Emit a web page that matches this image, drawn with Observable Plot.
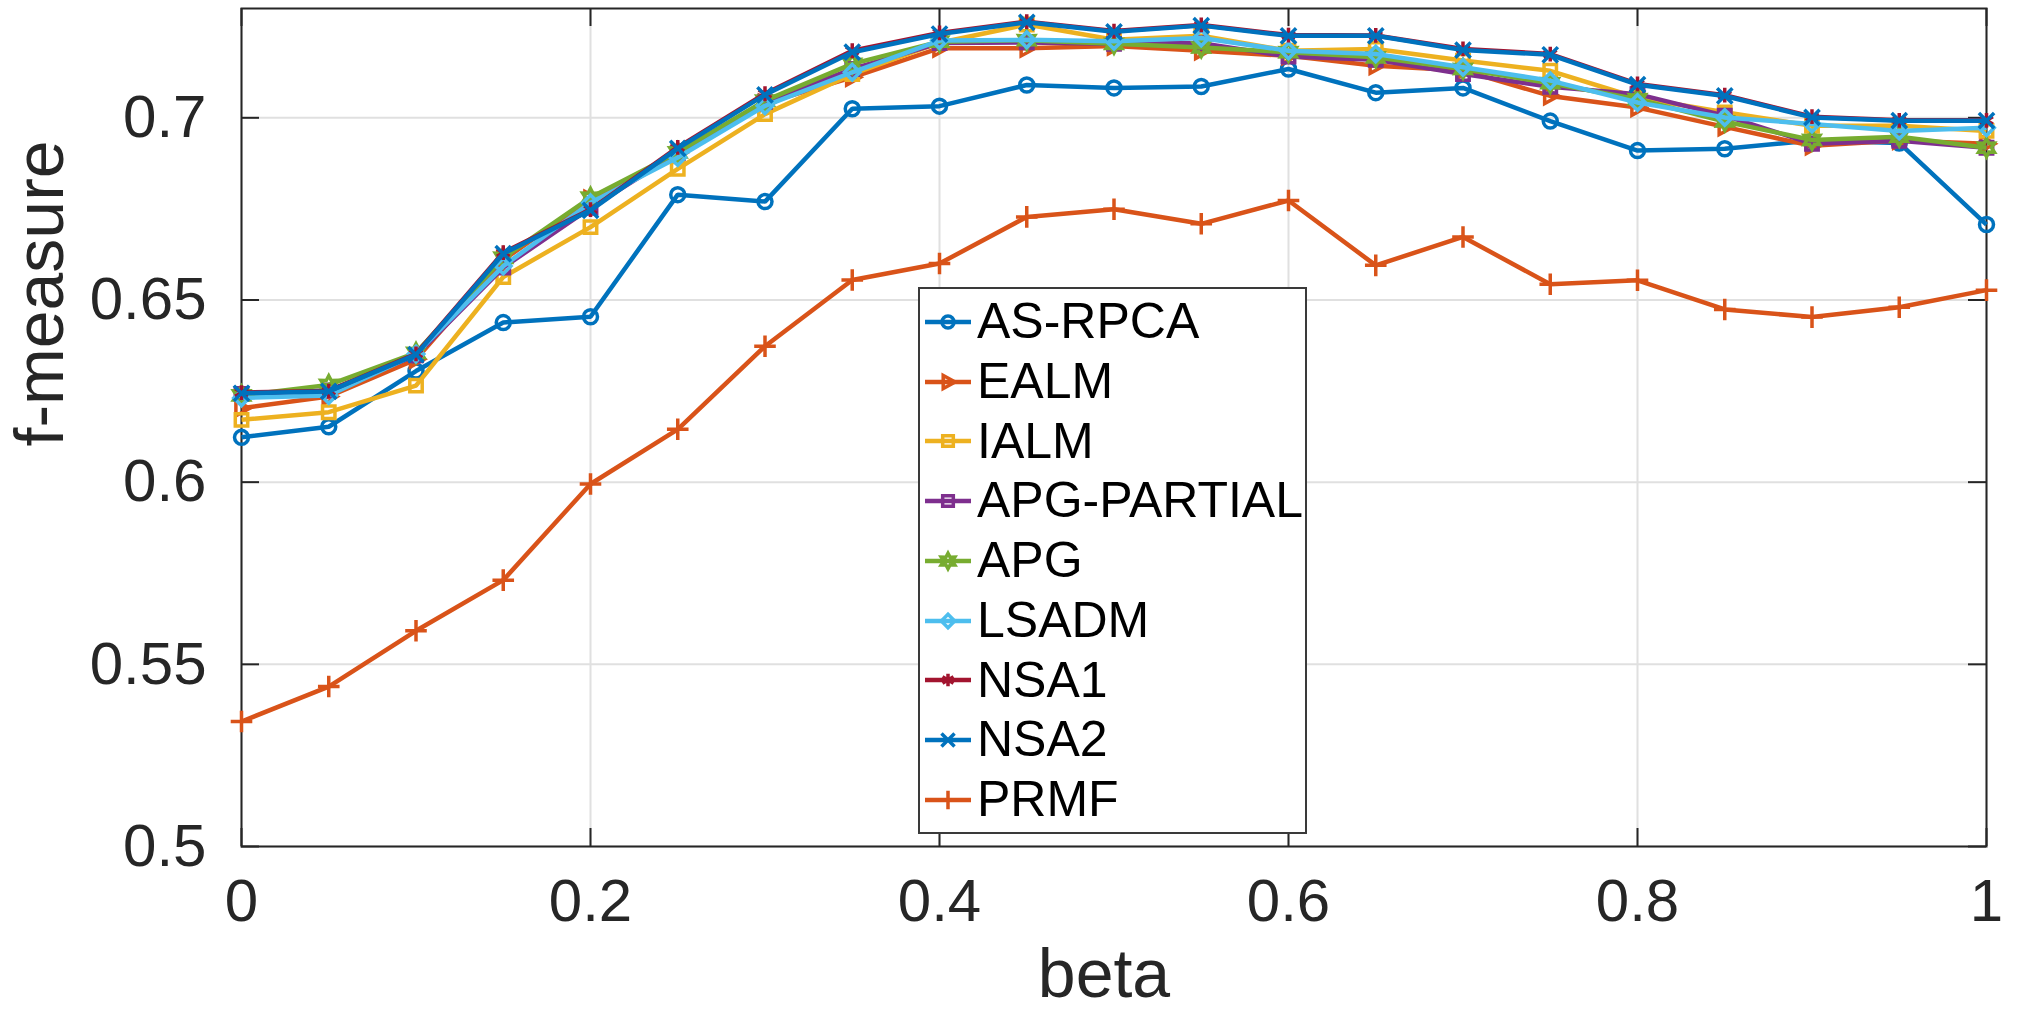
<!DOCTYPE html>
<html>
<head>
<meta charset="utf-8">
<script src="https://cdn.jsdelivr.net/npm/d3@7"></script>
<script src="https://cdn.jsdelivr.net/npm/@observablehq/plot@0.6"></script>
<style>
  html, body { margin: 0; padding: 0; background: #fff; }
  #chart { position: relative; width: 2034px; height: 1011px;
           font-family: "Liberation Sans", Arial, Helvetica, sans-serif; }
  #legend { position: absolute; left: 918px; top: 287px; width: 385px; height: 540px;
            border: 2px solid #3a3a3a; background: #fff; padding-top: 3px; box-sizing: content-box; }
  #legend .row { display: flex; align-items: center; height: 59.75px; }
  #legend .row svg { flex: none; display: block; }
  #legend .row span { font-size: 50px; line-height: 59.75px; color: #000; white-space: nowrap; }
</style>
</head>
<body>
<div id="chart"></div>
<script>
// beta sweep
const beta = [0, 0.05, 0.1, 0.15, 0.2, 0.25, 0.3, 0.35, 0.4, 0.45, 0.5,
              0.55, 0.6, 0.65, 0.7, 0.75, 0.8, 0.85, 0.9, 0.95, 1];

// f-measure per method
const asRpca     = [0.6123, 0.6152, 0.6305, 0.6438, 0.6454, 0.6789, 0.6770, 0.7025, 0.7032, 0.7090, 0.7082,
                    0.7086, 0.7134, 0.7069, 0.7082, 0.6991, 0.6910, 0.6915, 0.6938, 0.6931, 0.6707];
const ealm       = [0.6203, 0.6235, 0.6337, 0.6610, 0.6777, 0.6903, 0.7040, 0.7111, 0.7191, 0.7191, 0.7197,
                    0.7184, 0.7170, 0.7143, 0.7130, 0.7060, 0.7028, 0.6975, 0.6923, 0.6938, 0.6929];
const ialm       = [0.6171, 0.6192, 0.6265, 0.6563, 0.6700, 0.6860, 0.7010, 0.7120, 0.7206, 0.7256, 0.7214,
                    0.7225, 0.7184, 0.7189, 0.7157, 0.7129, 0.7055, 0.7015, 0.6978, 0.6978, 0.6964];
const apgPartial = [0.6242, 0.6252, 0.6348, 0.6589, 0.6753, 0.6903, 0.7044, 0.7134, 0.7205, 0.7207, 0.7203,
                    0.7205, 0.7168, 0.7159, 0.7120, 0.7085, 0.7065, 0.7006, 0.6929, 0.6937, 0.6918];
const apg        = [0.6238, 0.6267, 0.6355, 0.6616, 0.6781, 0.6905, 0.7047, 0.7148, 0.7209, 0.7213, 0.7203,
                    0.7193, 0.7180, 0.7166, 0.7134, 0.7095, 0.7051, 0.6990, 0.6939, 0.6948, 0.6918];
const lsadm      = [0.6231, 0.6238, 0.6352, 0.6593, 0.6767, 0.6891, 0.7033, 0.7125, 0.7212, 0.7214, 0.7210,
                    0.7219, 0.7184, 0.7175, 0.7139, 0.7102, 0.7042, 0.7001, 0.6983, 0.6964, 0.6973];
const nsa1       = [0.6246, 0.6250, 0.6352, 0.6630, 0.6748, 0.6919, 0.7066, 0.7184, 0.7233, 0.7264, 0.7238,
                    0.7255, 0.7227, 0.7226, 0.7189, 0.7175, 0.7093, 0.7062, 0.7003, 0.6993, 0.6993];
const nsa2       = [0.6244, 0.6249, 0.6350, 0.6627, 0.6746, 0.6916, 0.7063, 0.7180, 0.7230, 0.7262, 0.7236,
                    0.7253, 0.7225, 0.7225, 0.7186, 0.7173, 0.7091, 0.7060, 0.7001, 0.6992, 0.6992];
const prmf       = [0.5343, 0.5439, 0.5592, 0.5731, 0.5995, 0.6145, 0.6373, 0.6555, 0.6600, 0.6728, 0.6749,
                    0.6709, 0.6773, 0.6595, 0.6673, 0.6543, 0.6554, 0.6474, 0.6453, 0.6480, 0.6527];

const methodNames = ["AS-RPCA", "EALM", "IALM", "APG-PARTIAL", "APG", "LSADM", "NSA1", "NSA2", "PRMF"];
const methodValues = [asRpca, ealm, ialm, apgPartial, apg, lsadm, nsa1, nsa2, prmf];

const xTicks = [0, 0.2, 0.4, 0.6, 0.8, 1];
const yTicks = [0.5, 0.55, 0.6, 0.65, 0.7];

// marker shapes
const triangleRight = {
  draw(ctx, size) {
    const r = Math.sqrt(size / Math.PI);
    ctx.moveTo(r * 1.2, 0);
    ctx.lineTo(-r * 0.8, -r * 1.1);
    ctx.lineTo(-r * 0.8, r * 1.1);
    ctx.closePath();
  }
};
const hexagram = {
  draw(ctx, size) {
    const r = Math.sqrt(size / Math.PI) * 1.3, ri = r * 0.55;
    for (let k = 0; k < 12; k++) {
      const a = -Math.PI / 2 + k * Math.PI / 6, rr = k % 2 ? ri : r;
      const x = rr * Math.cos(a), y = rr * Math.sin(a);
      if (k) ctx.lineTo(x, y); else ctx.moveTo(x, y);
    }
    ctx.closePath();
  }
};

const style = {
  "AS-RPCA":     {color: "#0072BD", symbol: d3.symbolCircle},
  "EALM":        {color: "#D95319", symbol: triangleRight},
  "IALM":        {color: "#EDB120", symbol: d3.symbolSquare},
  "APG-PARTIAL": {color: "#7E2F8E", symbol: d3.symbolSquare},
  "APG":         {color: "#77AC30", symbol: hexagram},
  "LSADM":       {color: "#4DBEEE", symbol: d3.symbolDiamond2},
  "NSA1":        {color: "#A2142F", symbol: d3.symbolAsterisk},
  "NSA2":        {color: "#0072BD", symbol: d3.symbolTimes},
  "PRMF":        {color: "#D95319", symbol: d3.symbolPlus}
};

const W = 2034, H = 1011;
const mL = 241, mR = 48, mT = 8, mB = 165;
const plotW = W - mL - mR, plotH = H - mT - mB;
const tickLen = 18, ink = "#262626";

const marks = [
  Plot.gridX({ticks: xTicks, stroke: "#e0e0e0", strokeOpacity: 1, strokeWidth: 2}),
  Plot.gridY({ticks: yTicks, stroke: "#e0e0e0", strokeOpacity: 1, strokeWidth: 2}),
  // inward ticks on all four sides
  Plot.ruleX(xTicks, {x: d => d, stroke: ink, strokeWidth: 2, insetTop: plotH - tickLen}),
  Plot.ruleX(xTicks, {x: d => d, stroke: ink, strokeWidth: 2, insetBottom: plotH - tickLen}),
  Plot.ruleY(yTicks, {y: d => d, stroke: ink, strokeWidth: 2, insetRight: plotW - tickLen}),
  Plot.ruleY(yTicks, {y: d => d, stroke: ink, strokeWidth: 2, insetLeft: plotW - tickLen}),
  Plot.frame({stroke: ink, strokeWidth: 2}),
  Plot.axisX({ticks: xTicks, tickSize: 0, tickPadding: 32, fontSize: 60, fill: ink,
              tickFormat: d => String(d), label: null}),
  Plot.axisY({ticks: yTicks, tickSize: 0, tickPadding: 35, fontSize: 60, fill: ink,
              tickFormat: d => String(d), label: null}),
  Plot.text(["beta"], {text: d => d, frameAnchor: "bottom", dy: 150, dx: -10,
                       lineAnchor: "bottom", fontSize: 68, fill: ink}),
  Plot.text(["f-measure"], {text: d => d, frameAnchor: "left", dx: -179, dy: 19, rotate: -90,
                            lineAnchor: "bottom", fontSize: 68, fill: ink})
];

methodNames.forEach((name, i) => {
  const rows = beta.map((b, j) => ({beta: b, value: methodValues[i][j]}));
  const s = style[name];
  marks.push(
    Plot.line(rows, {x: "beta", y: "value", stroke: s.color, strokeWidth: 4.5,
                     strokeLinejoin: "miter", strokeLinecap: "butt"}),
    Plot.dot(rows, {x: "beta", y: "value", symbol: s.symbol, r: 7,
                    stroke: s.color, strokeWidth: 3.5, fill: "none"})
  );
});

const chart = Plot.plot({
  width: W, height: H,
  marginLeft: mL, marginRight: mR, marginTop: mT, marginBottom: mB,
  x: {domain: [0, 1]},
  y: {domain: [0.5, 0.73]},
  style: {fontFamily: '"Liberation Sans", Arial, Helvetica, sans-serif', background: "#fff", overflow: "visible"},
  marks
});

const host = document.getElementById("chart");
host.appendChild(chart);

// legend box
const legend = document.createElement("div");
legend.id = "legend";
methodNames.forEach(name => {
  const s = style[name];
  const row = document.createElement("div");
  row.className = "row";
  const svg = d3.create("svg").attr("width", 57).attr("height", 60);
  svg.append("line").attr("x1", 5).attr("x2", 51).attr("y1", 30).attr("y2", 30)
     .attr("stroke", s.color).attr("stroke-width", 4.5);
  svg.append("path").attr("transform", "translate(28,30)")
     .attr("d", d3.symbol(s.symbol, Math.PI * 6 * 6)())
     .attr("fill", "none").attr("stroke", s.color).attr("stroke-width", 3.5);
  row.appendChild(svg.node());
  const label = document.createElement("span");
  label.textContent = name;
  row.appendChild(label);
  legend.appendChild(row);
});
host.appendChild(legend);
</script>
</body>
</html>
